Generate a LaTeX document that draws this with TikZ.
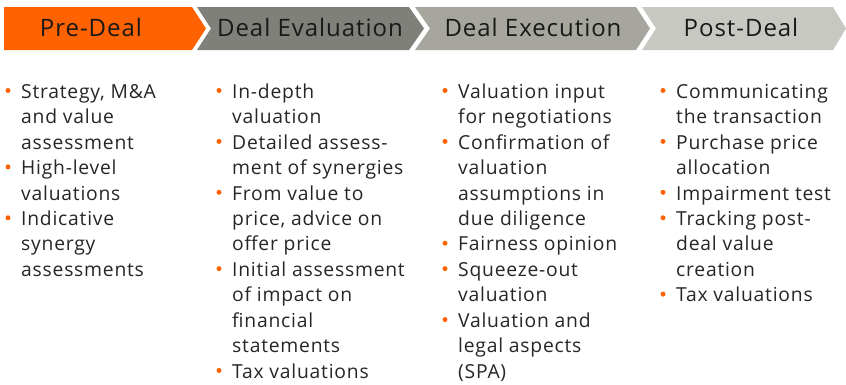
\documentclass[tikz,border=0pt]{standalone}
\usepackage{fontspec}
\setmainfont{Open Sans}[LetterSpace=4]
\definecolor{ingorange}{HTML}{FF6200}
\definecolor{gtwo}{HTML}{80807A}
\definecolor{gthree}{HTML}{A6A69E}
\definecolor{gfour}{HTML}{C8C8C2}
\tikzset{
  head/.style={anchor=base, inner sep=0pt, font=\fontsize{24}{28}\selectfont, text=black!90},
  item/.style={anchor=north west, inner sep=0pt, align=left, font=\fontsize{19.3}{25.45}\selectfont, text=black!85},
  dot/.style={fill=ingorange}
}
\newcommand\bitem[4]{%
  \node[item] (#1) at (#2,#3-20) {\rule{0pt}{20pt}#4};
  \fill[dot] (#2-13,#3-7.5) circle (2.5);
}
\begin{document}
\begin{tikzpicture}[x=1pt,y=-1pt]
\useasboundingbox (0,0) rectangle (846,384);
\fill[white] (0,0) rectangle (846,384);
% chevrons
\fill[ingorange] (4,7) -- (192,7) -- (206,28.5) -- (192,50) -- (4,50) -- cycle;
\fill[gtwo] (197,7) -- (409,7) -- (424,28.5) -- (409,50) -- (197,50) -- (211,28.5) -- cycle;
\fill[gthree] (415,7) -- (636,7) -- (650,28.5) -- (636,50) -- (415,50) -- (430,28.5) -- cycle;
\fill[gfour] (642,7) -- (833,7) -- (846,28.5) -- (833,50) -- (642,50) -- (656,28.5) -- cycle;
\node[head] (h1) at (91,36) {Pre-Deal};
\node[head] (h2) at (310,36) {Deal Evaluation};
\node[head] (h3) at (533,36) {Deal Execution};
\node[head] (h4) at (741,36) {Post-Deal};
% column 1
\bitem{a1}{21}{98}{Strategy, M\&A\\and value\\assessment}
\bitem{a2}{21}{174.35}{High-level\\valuations}
\bitem{a3}{21}{225.25}{Indicative\\synergy\\assessments}
% column 2
\bitem{b1}{232}{98}{In-depth\\valuation}
\bitem{b2}{232}{148.9}{Detailed assess-\\ment of synergies}
\bitem{b3}{232}{199.8}{From value to\\price, advice on\\offer price}
\bitem{b4}{232}{276.15}{Initial assessment\\of impact on\\financial\\statements}
\bitem{b5}{232}{377.95}{Tax valuations}
% column 3
\bitem{c1}{458}{98}{Valuation input\\for negotiations}
\bitem{c2}{458}{148.9}{Confirmation of\\valuation\\assumptions in\\due diligence}
\bitem{c3}{458}{250.7}{Fairness opinion}
\bitem{c4}{458}{276.15}{Squeeze-out\\valuation}
\bitem{c5}{458}{327.05}{Valuation and\\legal aspects\\(SPA)}
% column 4
\bitem{d1}{676}{98}{Communicating\\the transaction}
\bitem{d2}{676}{148.9}{Purchase price\\allocation}
\bitem{d3}{676}{199.8}{Impairment test}
\bitem{d4}{676}{225.25}{Tracking post-\\deal value\\creation}
\bitem{d5}{676}{301.6}{Tax valuations}
\end{tikzpicture}
\end{document}
